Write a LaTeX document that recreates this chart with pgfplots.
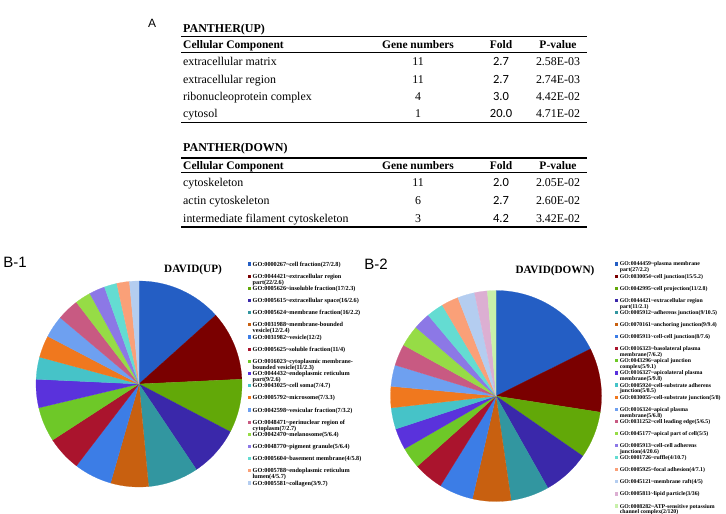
\documentclass[border=0pt]{standalone}
\usepackage{pgfplots}
\pgfplotsset{compat=1.18}
\usepackage{pgfplotstable}
\usepackage{fontspec}
\setmainfont{Liberation Serif}
\newfontfamily\sansf{Liberation Sans}
\newfontfamily\carl{Carlito}
\newcommand\fs[1]{\fontsize{#1bp}{#1bp}\selectfont}
\newcommand\T{\textasciitilde}

\definecolor{pc1}{RGB}{36,94,196}
\definecolor{pc2}{RGB}{122,0,0}
\definecolor{pc3}{RGB}{98,168,8}
\definecolor{pc4}{RGB}{58,40,170}
\definecolor{pc5}{RGB}{50,150,160}
\definecolor{pc6}{RGB}{200,96,16}
\definecolor{pc7}{RGB}{60,125,230}
\definecolor{pc8}{RGB}{170,20,45}
\definecolor{pc9}{RGB}{110,200,40}
\definecolor{pc10}{RGB}{90,50,220}
\definecolor{pc11}{RGB}{70,195,200}
\definecolor{pc12}{RGB}{240,120,30}
\definecolor{pc13}{RGB}{110,160,240}
\definecolor{pc14}{RGB}{200,90,130}
\definecolor{pc15}{RGB}{150,220,70}
\definecolor{pc16}{RGB}{140,120,230}
\definecolor{pc17}{RGB}{100,220,210}
\definecolor{pc18}{RGB}{250,160,120}
\definecolor{pc19}{RGB}{180,205,240}
\definecolor{pc20}{RGB}{220,175,210}
\definecolor{pc21}{RGB}{200,240,170}

% gene counts of the DAVID terms (slice sizes)
\pgfplotstableread{
n
27
22
17
16
16
12
12
11
11
9
7
7
7
7
5
5
4
4
3
}\uptab
\pgfplotstableread{
n
27
15
11
11
9
9
8
7
5
5
5
5
5
5
5
4
4
4
4
3
2
}\dntab

\newcommand\pieangles[3]{%
  \gdef\pietot{0}%
  \foreach \i in {1,...,#3}{%
    \pgfmathtruncatemacro\r{\i-1}%
    \pgfplotstablegetelem{\r}{n}\of#1%
    \pgfmathparse{\pietot+\pgfplotsretval}\xdef\pietot{\pgfmathresult}}%
  \gdef\piecum{0}%
  \foreach \i in {1,...,#3}{%
    \pgfmathtruncatemacro\r{\i-1}%
    \pgfplotstablegetelem{\r}{n}\of#1%
    \pgfmathparse{90-\piecum/\pietot*360}\expandafter\xdef\csname #2S\i\endcsname{\pgfmathresult}%
    \pgfmathparse{\piecum+\pgfplotsretval}\xdef\piecum{\pgfmathresult}%
    \pgfmathparse{90-\piecum/\pietot*360}\expandafter\xdef\csname #2E\i\endcsname{\pgfmathresult}}%
}

\newcommand\trow[5]{%
  \node[anchor=base west,inner sep=0,font=\fs{11.9}] at (183,#1) {#2};
  \node[anchor=base,inner sep=0,font=\fs{11.9}] at (418,#1) {#3};
  \node[anchor=base,inner sep=0,font=\carl\fs{12.5}] at (501,#1) {#4};
  \node[anchor=base,inner sep=0,font=\fs{11.9}] at (558,#1) {#5};}
\newcommand\thead[1]{%
  \node[anchor=base west,inner sep=0,font=\fs{11.5}\bfseries] at (183,#1) {Cellular Component};
  \node[anchor=base,inner sep=0,font=\fs{11.5}\bfseries] at (418,#1) {Gene numbers};
  \node[anchor=base,inner sep=0,font=\fs{11.5}\bfseries] at (501,#1) {Fold};
  \node[anchor=base,inner sep=0,font=\fs{11.5}\bfseries] at (558,#1) {P-value};}

\newcommand\LU[4]{%
  \fill[pc#1] (247.5,{264+(#1-1)*12.17-1.6}) rectangle ++(3.2,3.2);
  \node[lgu] at (252.5,{264+(#1-1)*12.17+2.1}) {#3};
  \node[lgu] at (252.5,{264+(#1-1)*12.17+8.1}) {#4};}
\newcommand\LD[4]{%
  \fill[pc#1] (615,{264+(#1-1)*12.1-1.6}) rectangle ++(3.2,3.2);
  \node[lgd] at (619.6,{264+(#1-1)*12.1+2}) {#3};
  \node[lgd] at (619.6,{264+(#1-1)*12.1+7.9}) {#4};}

\begin{document}
\begin{tikzpicture}[x=1bp,y=-1bp,
  lgu/.style={anchor=base west,inner sep=0pt,font=\fontsize{6.2bp}{6.2bp}\selectfont\bfseries},
  lgd/.style={anchor=base west,inner sep=0pt,font=\fontsize{5.8bp}{5.8bp}\selectfont\bfseries}]
\path[use as bounding box] (0,0) rectangle (726,514);
\pieangles{\uptab}{up}{19}
\pieangles{\dntab}{dn}{21}

% ---------- Table A ----------
\node[font=\sansf\fs{12}] at (152,23) {A};
\node[anchor=base west,inner sep=0,font=\fs{12}\bfseries] at (183,33) {PANTHER(UP)};
\draw[line width=1.6bp] (181,36.5) -- (587,36.5);
\thead{48.7}
\draw[line width=0.7bp] (181,52.5) -- (587,52.5);
\trow{65.7}{extracellular matrix}{11}{2.7}{2.58E-03}
\trow{83.3}{extracellular region}{11}{2.7}{2.74E-03}
\trow{100.7}{ribonucleoprotein complex}{4}{3.0}{4.42E-02}
\trow{117.7}{cytosol}{1}{20.0}{4.71E-02}
\draw[line width=1.6bp] (181,122.5) -- (587,122.5);

\node[anchor=base west,inner sep=0,font=\fs{12}\bfseries] at (183,152) {PANTHER(DOWN)};
\draw[line width=1.6bp] (181,158.3) -- (587,158.3);
\thead{169.7}
\draw[line width=0.7bp] (181,172.5) -- (587,172.5);
\trow{186.7}{cytoskeleton}{11}{2.0}{2.05E-02}
\trow{204.7}{actin cytoskeleton}{6}{2.7}{2.60E-02}
\trow{222.7}{intermediate filament cytoskeleton}{3}{4.2}{3.42E-02}
\draw[line width=1.6bp] (181,227) -- (587,227);

% ---------- B-1 ----------
\node[font=\sansf\fs{15}] at (15,262) {B-1};
\node[font=\fs{11.2}\bfseries] at (193,270) {DAVID(UP)};
\begin{axis}[at={(139bp,-384bp)},anchor=center,scale only axis,width=206bp,height=206bp,
  xmin=-1,xmax=1,ymin=-1,ymax=1,hide axis,clip=false]
\pgfplotsinvokeforeach{1,...,19}{%
  \fill[pc#1,draw=pc#1,line width=0.2bp] (axis cs:0,0) -- (axis cs:{cos(\csname upS#1\endcsname)},{sin(\csname upS#1\endcsname)})
    arc[start angle=\csname upS#1\endcsname,end angle=\csname upE#1\endcsname,radius=103bp] -- cycle;
}
\end{axis}
\LU{1}{}{GO:0000267\T cell fraction(27/2.8)}{}
\LU{2}{}{GO:0044421\T extracellular region}{part(22/2.6)}
\LU{3}{}{GO:0005626\T insoluble fraction(17/2.3)}{}
\LU{4}{}{GO:0005615\T extracellular space(16/2.6)}{}
\LU{5}{}{GO:0005624\T membrane fraction(16/2.2)}{}
\LU{6}{}{GO:0031988\T membrane-bounded}{vesicle(12/2.4)}
\LU{7}{}{GO:0031982\T vesicle(12/2)}{}
\LU{8}{}{GO:0005625\T soluble fraction(11/4)}{}
\LU{9}{}{GO:0016023\T cytoplasmic membrane-}{bounded vesicle(11/2.3)}
\LU{10}{}{GO:0044432\T endoplasmic reticulum}{part(9/2.6)}
\LU{11}{}{GO:0043025\T cell soma(7/4.7)}{}
\LU{12}{}{GO:0005792\T microsome(7/3.3)}{}
\LU{13}{}{GO:0042598\T vesicular fraction(7/3.2)}{}
\LU{14}{}{GO:0048471\T perinuclear region of}{cytoplasm(7/2.7)}
\LU{15}{}{GO:0042470\T melanosome(5/6.4)}{}
\LU{16}{}{GO:0048770\T pigment granule(5/6.4)}{}
\LU{17}{}{GO:0005604\T basement membrane(4/5.8)}{}
\LU{18}{}{GO:0005788\T endoplasmic reticulum}{lumen(4/5.7)}
\LU{19}{}{GO:0005581\T collagen(3/9.7)}{}

% ---------- B-2 ----------
\node[font=\sansf\fs{15}] at (376,264) {B-2};
\node[font=\fs{11.2}\bfseries] at (555,271) {DAVID(DOWN)};
\begin{axis}[at={(496bp,-396bp)},anchor=center,scale only axis,width=211bp,height=211bp,
  xmin=-1,xmax=1,ymin=-1,ymax=1,hide axis,clip=false]
\pgfplotsinvokeforeach{1,...,21}{%
  \fill[pc#1,draw=pc#1,line width=0.2bp] (axis cs:0,0) -- (axis cs:{cos(\csname dnS#1\endcsname)},{sin(\csname dnS#1\endcsname)})
    arc[start angle=\csname dnS#1\endcsname,end angle=\csname dnE#1\endcsname,radius=105.5bp] -- cycle;
}
\end{axis}
\LD{1}{}{GO:0044459\T plasma membrane}{part(27/2.2)}
\LD{2}{}{GO:0030054\T cell junction(15/5.2)}{}
\LD{3}{}{GO:0042995\T cell projection(11/2.8)}{}
\LD{4}{}{GO:0044421\T extracellular region}{part(11/2.1)}
\LD{5}{}{GO:0005912\T adherens junction(9/10.5)}{}
\LD{6}{}{GO:0070161\T anchoring junction(9/9.4)}{}
\LD{7}{}{GO:0005911\T cell-cell junction(8/7.6)}{}
\LD{8}{}{GO:0016323\T basolateral plasma}{membrane(7/6.2)}
\LD{9}{}{GO:0043296\T apical junction}{complex(5/9.1)}
\LD{10}{}{GO:0016327\T apicolateral plasma}{membrane(5/9.8)}
\LD{11}{}{GO:0005924\T cell-substrate adherens}{junction(5/8.5)}
\LD{12}{}{GO:0030055\T cell-substrate junction(5/8)}{}
\LD{13}{}{GO:0016324\T apical plasma}{membrane(5/6.8)}
\LD{14}{}{GO:0031252\T cell leading edge(5/6.5)}{}
\LD{15}{}{GO:0045177\T apical part of cell(5/5)}{}
\LD{16}{}{GO:0005913\T cell-cell adherens}{junction(4/20.6)}
\LD{17}{}{GO:0001726\T ruffle(4/10.7)}{}
\LD{18}{}{GO:0005925\T focal adhesion(4/7.1)}{}
\LD{19}{}{GO:0045121\T membrane raft(4/5)}{}
\LD{20}{}{GO:0005811\T lipid particle(3/36)}{}
\LD{21}{}{GO:0008282\T ATP-sensitive potassium}{channel complex(2/120)}
\end{tikzpicture}
\end{document}
